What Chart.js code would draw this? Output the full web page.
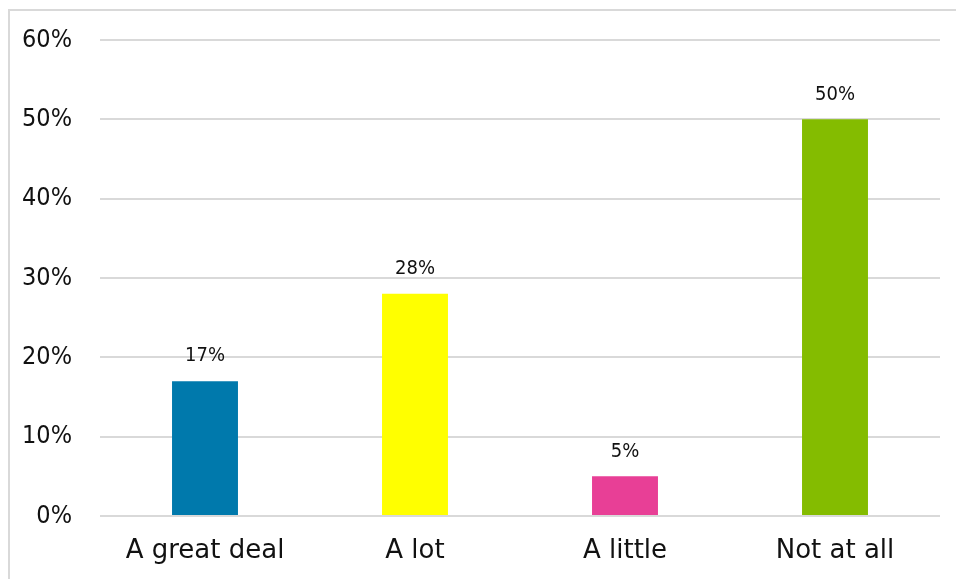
<!DOCTYPE html>
<html>
<head>
<meta charset="utf-8">
<script src="https://cdn.jsdelivr.net/npm/chart.js@4/dist/chart.umd.min.js"></script>
<style>
  html, body { margin: 0; padding: 0; background: #fff; }
  .frame { position: absolute; left: 8px; top: 9px; width: 960px; height: 580px; border: 2px solid #d9d9d9; box-sizing: border-box; }
  .wrap { position: absolute; left: 0; top: 0; width: 956px; height: 579px; }
</style>
</head>
<body>
<div class="frame"></div>
<div class="wrap"><canvas id="chart"></canvas></div>
<script>
const categories = ['A great deal', 'A lot', 'A little', 'Not at all'];
const shares = [17, 28, 5, 50];
const barColors = ['#0079AC', '#FFFF00', '#E83F96', '#84BC00'];
const yTicks = [0, 10, 20, 30, 40, 50, 60];

const narrowFont = '"DejaVu Sans Condensed", sans-serif';

// percentage above each bar
const valueLabels = {
  id: 'valueLabels',
  afterDatasetsDraw(chart) {
    const ctx = chart.ctx;
    const meta = chart.getDatasetMeta(0);
    ctx.save();
    ctx.font = '20px ' + narrowFont;
    ctx.fillStyle = '#111';
    ctx.textAlign = 'center';
    ctx.textBaseline = 'middle';
    meta.data.forEach((bar, i) => {
      ctx.fillText(shares[i] + '%', bar.x, bar.y - 25);
    });
    ctx.restore();
  }
};

new Chart(document.getElementById('chart'), {
  type: 'bar',
  data: {
    labels: categories,
    datasets: [{
      data: shares,
      backgroundColor: barColors,
      barPercentage: 0.314,
      categoryPercentage: 1
    }]
  },
  options: {
    responsive: true,
    maintainAspectRatio: false,
    animation: false,
    layout: { padding: { top: 40, right: 16, bottom: 0, left: 0 } },
    plugins: { legend: { display: false }, tooltip: { enabled: false } },
    scales: {
      x: {
        grid: { display: false, drawTicks: false },
        border: { display: false },
        ticks: { color: '#111', padding: 20, font: { family: 'DejaVu Sans', size: 26 } },
        afterFit(scale) { scale.height = 63; }
      },
      y: {
        min: 0,
        max: 60,
        afterBuildTicks(scale) { scale.ticks = yTicks.map(v => ({ value: v })); },
        grid: { color: '#d9d9d9', lineWidth: 2, drawTicks: false },
        border: { display: false },
        ticks: {
          color: '#111',
          padding: 28,
          font: { family: narrowFont, size: 25 },
          callback: v => v + '%'
        },
        afterFit(scale) {
          scale.width = 100;
          scale.paddingTop = 0;
          scale.paddingBottom = 0;
        }
      }
    }
  },
  plugins: [valueLabels]
});
</script>
</body>
</html>
